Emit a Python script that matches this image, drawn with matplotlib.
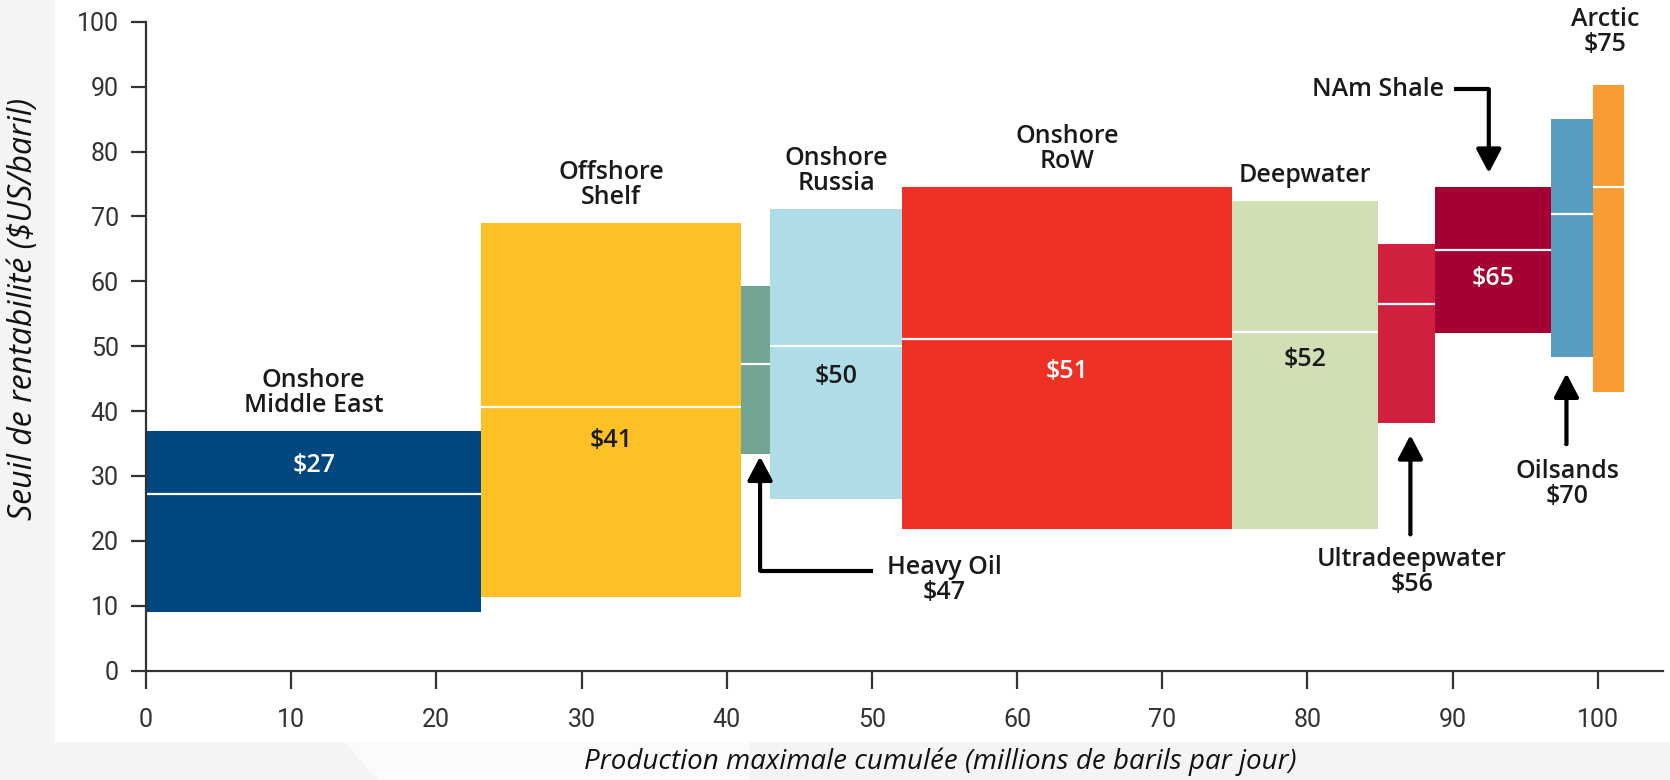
import numpy as np
import matplotlib.pyplot as plt
from matplotlib.patches import Rectangle, Polygon

# bars, left to right (x = cumulated production, y = breakeven range)
categories = ['Onshore\nMiddle East', 'Offshore\nShelf', 'Heavy Oil', 'Onshore\nRussia',
              'Onshore\nRoW', 'Deepwater', 'Ultradeepwater', 'NAm Shale', 'Oilsands', 'Arctic']
widths = [23.1, 17.9, 2.0, 9.1, 22.7, 10.1, 3.9, 8.0, 2.9, 2.1]
lows = [9.1, 11.3, 33.4, 26.5, 21.9, 21.9, 38.1, 52.0, 48.3, 42.9]
highs = [37.0, 69.0, 59.3, 71.2, 74.6, 72.4, 65.7, 74.6, 85.0, 90.2]
medians = [27.3, 40.7, 47.2, 50.1, 51.1, 52.2, 56.5, 64.8, 70.3, 74.6]
prices = [27, 41, 47, 50, 51, 52, 56, 65, 70, 75]
colors = ['#00467f', '#fdc125', '#72a592', '#aedde8', '#ee3124',
          '#d1e0b4', '#d11f3f', '#a50034', '#579dc0', '#f89c33']

xticks = [0, 10, 20, 30, 40, 50, 60, 70, 80, 90, 100]
yticks = [0, 10, 20, 30, 40, 50, 60, 70, 80, 90, 100]

TXT = '#1a1a1a'
LFONT = 'Open Sans'
LSIZE = 18

W, H = 1670, 780
fig = plt.figure(figsize=(16.7, 7.8), dpi=100, facecolor='#f4f4f4')
# white chart panel of the screenshot
fig.patches.append(Rectangle((55/W, 1 - 742/H), 1, 1, transform=fig.transFigure,
                             facecolor='white', edgecolor='none', zorder=-10))
fig.patches.append(Polygon([(344/W, 1 - 742/H), (749/W, 1 - 742/H), (749/W, 0), (378/W, 0)],
                           closed=True, transform=fig.transFigure,
                           facecolor='#fbfbfb', edgecolor='none', zorder=-9))
ax = fig.add_axes([146/W, 1 - 670.7/H, 1517/W, 649/H])
ax.set_facecolor('none')

lefts = np.concatenate([[0], np.cumsum(widths)[:-1]])
lows = np.array(lows)
highs = np.array(highs)
centers = lefts + np.array(widths) / 2

ax.bar(lefts, highs - lows, width=widths, bottom=lows, align='edge',
       color=colors, linewidth=0)
ax.hlines(medians, lefts, lefts + np.array(widths), color='white', lw=1.6)

# names above the big bars
for i in [0, 1, 3, 4, 5]:
    ax.text(centers[i], highs[i] + 2.0, categories[i], ha='center', va='bottom',
            fontsize=LSIZE, fontfamily=LFONT, fontweight='semibold', color=TXT,
            linespacing=1.0)

# prices inside the bars
inside = {0: (4.3, 'white'), 1: (-5.2, TXT), 3: (-4.8, TXT),
          4: (-5.0, 'white'), 5: (-4.2, TXT), 7: (-4.3, 'white')}
for i, (off, col) in inside.items():
    ax.text(centers[i], medians[i] + off, '$%d' % prices[i], ha='center', va='center',
            fontsize=LSIZE, fontfamily=LFONT, fontweight='semibold', color=col)


def callout(txt, tx, ty, ha='center', va='top'):
    ax.text(tx, ty, txt, ha=ha, va=va, fontsize=LSIZE, fontfamily=LFONT,
            fontweight='semibold', color=TXT, linespacing=1.0)


def arrow(path, tip):
    xs, ys = zip(*path)
    ax.plot(xs, ys, color='black', lw=3, solid_capstyle='butt', solid_joinstyle='miter')
    ax.annotate('', xy=tip, xytext=path[-1],
                arrowprops=dict(arrowstyle='-|>,head_length=0.72,head_width=0.38',
                                mutation_scale=20, lw=3, color='black',
                                shrinkA=0, shrinkB=0))


# Heavy Oil
callout('%s\n$%d' % (categories[2], prices[2]), 55.0, 17.8)
arrow([(50.1, 15.4), (42.3, 15.4)], (42.3, lows[2] - 0.4))
# Ultradeepwater
callout('%s\n$%d' % (categories[6], prices[6]), 87.2, 19.0)
arrow([(87.1, 20.9), (87.1, 21.0)], (87.1, lows[6] - 1.8))
# Oilsands
callout('%s\n$%d' % (categories[8], prices[8]), 97.9, 32.6)
arrow([(97.85, 34.8), (97.85, 34.9)], (97.85, lows[8] - 2.5))
# NAm Shale
callout(categories[7], 89.4, 89.6, ha='right', va='center')
arrow([(90.1, 89.6), (92.5, 89.6)], (92.5, highs[7] + 2.1))
# Arctic
callout('%s\n$%d' % (categories[9], prices[9]), 100.5, 102.2)

ax.set_xlim(0, 104.5)
ax.set_ylim(0, 100)
ax.set_xticks(xticks)
ax.set_yticks(yticks)
for s in ['top', 'right']:
    ax.spines[s].set_visible(False)
for s in ['left', 'bottom']:
    ax.spines[s].set_linewidth(1.6)
    ax.spines[s].set_color('#333333')
ax.tick_params(axis='x', length=13, width=1.6, color='#333333', pad=14,
               labelsize=18, labelcolor='#333333')
ax.tick_params(axis='y', length=10.5, width=1.6, color='#333333', pad=9,
               labelsize=18, labelcolor='#333333')
for lab in ax.get_xticklabels() + ax.get_yticklabels():
    lab.set_fontfamily('Roboto')

fig.text(940/W, 1 - 762/H, 'Production maximale cumulée (millions de barils par jour)',
         ha='center', va='center', fontsize=20, fontfamily='Open Sans', style='italic',
         color='#111111')
fig.text(24/W, 1 - 309/H, 'Seuil de rentabilité ($US/baril)', rotation=90,
         ha='center', va='center', fontsize=23, fontfamily='Open Sans', style='italic',
         color='#111111')

fig.savefig('out.png', dpi=100, facecolor=fig.get_facecolor())
